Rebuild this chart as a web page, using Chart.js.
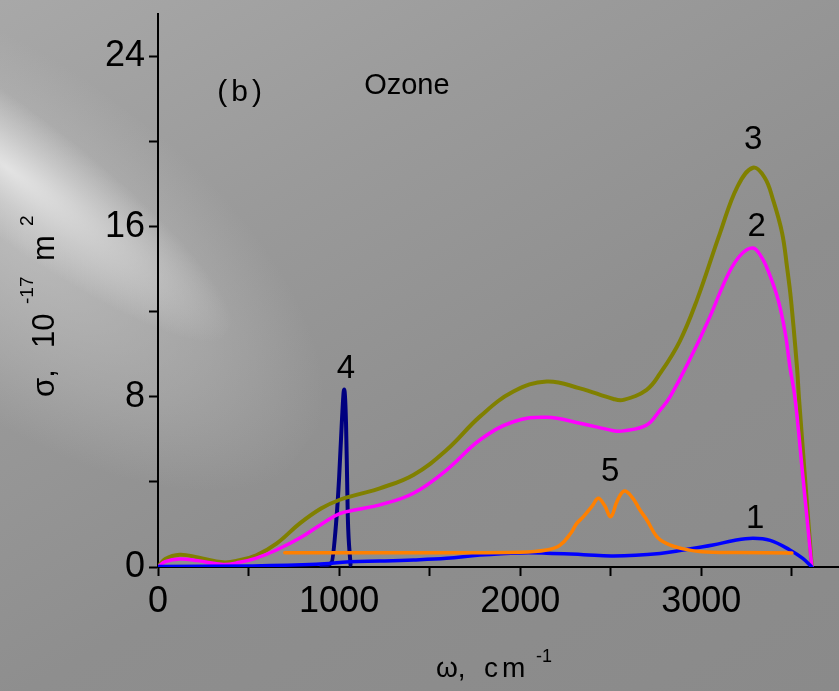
<!DOCTYPE html>
<html>
<head>
<meta charset="utf-8">
<script src="https://cdn.jsdelivr.net/npm/chart.js@4.4.1/dist/chart.umd.min.js"></script>
<style>
  html, body { margin: 0; padding: 0; }
  body {
    width: 839px; height: 691px; overflow: hidden; position: relative;
    background: linear-gradient(150deg, #a8a8a8 0%, #9a9a9a 30%, #8e8e8e 60%, #8a8a8a 100%);
  }
  .glow {
    position: absolute; left: -220px; top: 110px; width: 580px; height: 330px;
    transform: rotate(37deg);
    background: radial-gradient(ellipse at 40% 50%, rgba(205,205,205,0.6) 0%, rgba(200,200,200,0.28) 45%, rgba(200,200,200,0) 72%);
  }
  .streak {
    position: absolute; left: -170px; top: 140px; width: 440px; height: 120px;
    transform: rotate(37deg);
    background: radial-gradient(ellipse at 38% 50%, rgba(232,232,232,0.9) 0%, rgba(220,220,220,0.55) 35%, rgba(210,210,210,0) 72%);
  }
  canvas { position: absolute; left: 0; top: 0; }
</style>
</head>
<body>
<div class="glow"></div>
<div class="streak"></div>
<canvas id="chart" width="839" height="691"></canvas>
<script>
// Ozone cross section, panel (b)
const xTickValues = [0, 500, 1000, 1500, 2000, 2500, 3000, 3500];
const xTicksMajor = [0, 1000, 2000, 3000];
const yTickValues = [0, 4, 8, 12, 16, 20, 24];
const yTicksMajor = [0, 8, 16, 24];

// curve 1 (blue)
const curve1X = [0, 500, 875, 1060, 1225, 1410, 1593, 1777, 2000, 2146, 2350, 2515, 2772, 2900, 3064, 3180, 3285, 3380, 3489, 3560, 3610];
const curve1Y = [0.02, 0.05, 0.13, 0.25, 0.28, 0.33, 0.41, 0.56, 0.66, 0.65, 0.58, 0.52, 0.64, 0.8, 1.03, 1.25, 1.35, 1.25, 0.8, 0.4, 0];

// curve 2 (magenta)
const curve2X = [0, 40, 120, 220, 360, 450, 543, 654, 783, 900, 1000, 1100, 1225, 1410, 1593, 1777, 1962, 2146, 2330, 2515, 2570, 2698, 2772, 2827, 2950, 3047, 3150, 3220, 3285, 3330, 3370, 3424, 3463, 3489, 3517, 3560, 3610];
const curve2Y = [0, 0.25, 0.38, 0.3, 0.12, 0.22, 0.42, 0.8, 1.36, 2.0, 2.5, 2.7, 2.92, 3.47, 4.56, 5.97, 6.83, 7.04, 6.76, 6.41, 6.4, 6.68, 7.38, 8.0, 10.0, 11.76, 13.8, 14.7, 15.0, 14.6, 13.9, 12.56, 11.0, 9.4, 7.95, 4.3, 0];

// curve 3 (olive)
const curve3X = [0, 40, 120, 220, 360, 450, 543, 654, 783, 900, 1000, 1100, 1225, 1410, 1593, 1777, 1962, 2146, 2330, 2515, 2570, 2698, 2772, 2880, 2976, 3103, 3200, 3285, 3350, 3396, 3446, 3473, 3495, 3528, 3539, 3575, 3610];
const curve3Y = [0, 0.38, 0.58, 0.45, 0.22, 0.32, 0.55, 1.1, 2.05, 2.75, 3.15, 3.4, 3.7, 4.33, 5.5, 7.07, 8.25, 8.72, 8.4, 7.9, 7.86, 8.33, 9.1, 10.6, 12.56, 15.7, 17.9, 18.77, 18.3, 17.26, 15.7, 14.1, 12.56, 9.4, 7.95, 3.9, 0];

// curve 4 (navy, narrow peak)
const curve4X = [903, 958, 986, 1000, 1015, 1028, 1038, 1044, 1048, 1063];
const curve4Y = [0.05, 0.2, 2.35, 4.2, 6.8, 8.35, 6.8, 4.2, 2.35, 0.1];

// curve 5 (orange)
const curve5X = [700, 1000, 1500, 2000, 2146, 2220, 2280, 2312, 2349, 2400, 2431, 2465, 2500, 2535, 2575, 2620, 2661, 2700, 2754, 2810, 2900, 3000, 3200, 3500];
const curve5Y = [0.67, 0.67, 0.67, 0.69, 0.8, 1.03, 1.6, 2.05, 2.37, 2.9, 3.23, 2.9, 2.37, 3.1, 3.57, 3.25, 2.68, 2.2, 1.43, 1.1, 0.85, 0.72, 0.68, 0.66];

// curve number labels (baseline position, data units)
const curveLabels = ['1', '2', '3', '4', '5'];
const curveLabelX = [3297, 3306, 3286, 1037, 2496];
const curveLabelY = [1.82, 15.56, 19.64, 8.9, 4.02];

const FONT = '"Liberation Sans", Arial, sans-serif';

function pts(xs, ys) {
  return xs.map((x, i) => ({ x: x, y: ys[i] }));
}

function line(data, color, width, mode) {
  return {
    data: data,
    borderColor: color,
    borderWidth: width,
    pointRadius: 0,
    fill: false,
    tension: 0.4,
    cubicInterpolationMode: mode || 'default',
    borderCapStyle: 'round',
    borderJoinStyle: 'round'
  };
}

const textPlugin = {
  id: 'texts',
  afterDatasetsDraw(chart) {
    const ctx = chart.ctx;
    const xs = chart.scales.x, ys = chart.scales.y;
    ctx.save();
    ctx.fillStyle = '#000';
    ctx.textAlign = 'center';
    ctx.textBaseline = 'alphabetic';
    ctx.font = '33px ' + FONT;
    curveLabels.forEach((t, i) => {
      ctx.fillText(t, xs.getPixelForValue(curveLabelX[i]), ys.getPixelForValue(curveLabelY[i]));
    });

    ctx.font = '30px ' + FONT;
    ctx.letterSpacing = '4px';
    ctx.fillText('(b)', xs.getPixelForValue(451) + 2, ys.getPixelForValue(21.9));
    ctx.letterSpacing = '0px';
    ctx.font = '29px ' + FONT;
    ctx.fillText('Ozone', xs.getPixelForValue(1374), ys.getPixelForValue(22.23));

    // x axis title: ω, cm^-1
    ctx.textAlign = 'left';
    ctx.font = '28px ' + FONT;
    ctx.fillText('\u03c9,', 436, 677);
    ctx.fillText('c', 484, 677);
    ctx.fillText('m', 502, 677);
    ctx.font = '18px ' + FONT;
    ctx.fillText('-1', 536, 662);

    // y axis title: σ, 10^-17 m^2
    ctx.translate(54, 397);
    ctx.rotate(-Math.PI / 2);
    ctx.font = '31px ' + FONT;
    ctx.fillText('\u03c3,', 0, 0);
    ctx.fillText('10', 49, 0);
    ctx.fillText('m', 136, 0);
    ctx.font = '19px ' + FONT;
    ctx.fillText('-17', 93, -21);
    ctx.fillText('2', 171, -21);
    ctx.restore();
  }
};

const axisGrid = { drawOnChartArea: false, drawTicks: true, tickLength: 9, tickWidth: 2, tickColor: '#000' };

new Chart(document.getElementById('chart'), {
  type: 'line',
  data: {
    datasets: [
      line(pts(curve5X, curve5Y), '#ff8000', 3.5),
      line(pts(curve1X, curve1Y), '#0000ff', 3.5),
      line(pts(curve2X, curve2Y), '#ff00ff', 3.5),
      line(pts(curve3X, curve3Y), '#808000', 4),
      line(pts(curve4X, curve4Y), '#000080', 4, 'monotone')
    ]
  },
  options: {
    responsive: false,
    animation: false,
    layout: { padding: { top: 14, right: 0, left: 0, bottom: 0 } },
    plugins: { legend: { display: false }, tooltip: { enabled: false } },
    scales: {
      x: {
        type: 'linear',
        min: 0,
        max: 3760,
        afterBuildTicks(s) { s.ticks = xTickValues.map(v => ({ value: v })); },
        afterFit(s) { s.height = 124; s.paddingLeft = 0; s.paddingRight = 0; },
        border: { color: '#000', width: 2 },
        grid: axisGrid,
        ticks: {
          autoSkip: false,
          maxRotation: 0,
          padding: 4,
          color: '#000',
          font: { family: FONT, size: 36 },
          callback: v => xTicksMajor.includes(v) ? String(v) : ''
        }
      },
      y: {
        min: 0,
        max: 26,
        afterBuildTicks(s) { s.ticks = yTickValues.map(v => ({ value: v })); },
        afterFit(s) { s.width = 158; s.paddingTop = 0; s.paddingBottom = 0; },
        border: { color: '#000', width: 2 },
        grid: axisGrid,
        ticks: {
          autoSkip: false,
          padding: 4,
          color: '#000',
          font: { family: FONT, size: 36 },
          callback: v => yTicksMajor.includes(v) ? String(v) : ''
        }
      }
    }
  },
  plugins: [textPlugin]
});
</script>
</body>
</html>
